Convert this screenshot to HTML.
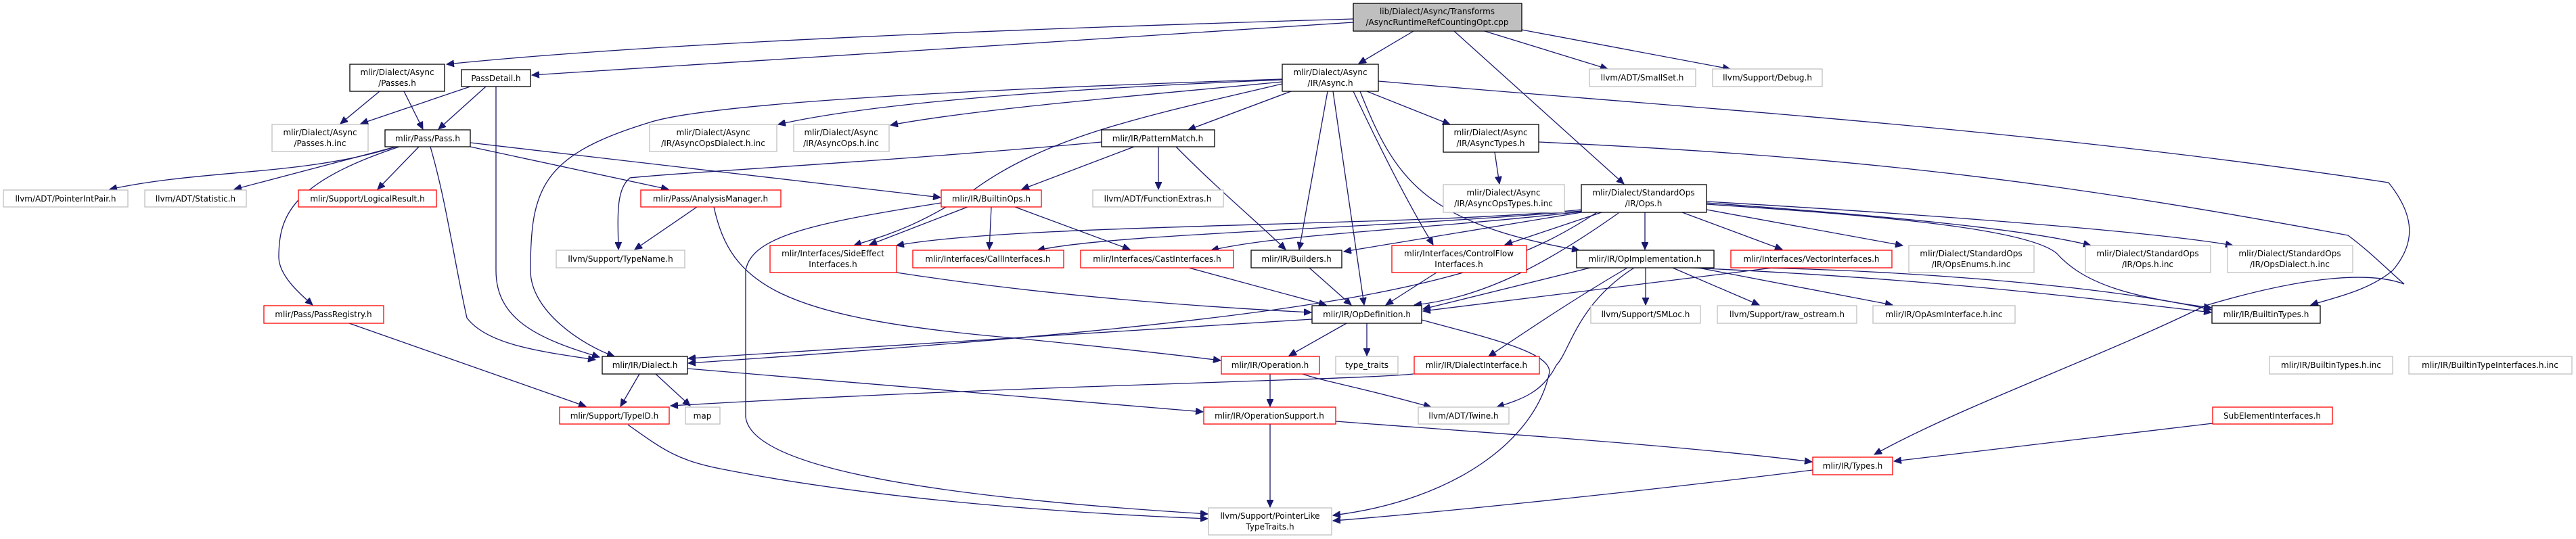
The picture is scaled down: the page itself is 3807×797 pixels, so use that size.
<!DOCTYPE html>
<html><head><meta charset="utf-8"><style>
html,body{margin:0;padding:0;background:#fff;}
svg{display:block;}
text{font-family:"DejaVu Sans","Liberation Sans",sans-serif;font-size:12px;fill:#000;text-anchor:middle;}
.e{fill:none;stroke:#191970;stroke-width:1.3;marker-end:url(#a);}
.b{fill:#fff;stroke:#000;stroke-width:1.3;}
.g{fill:#fff;stroke:#bfbfbf;stroke-width:1.3;}
.r{fill:#fff;stroke:#ff0000;stroke-width:1.3;}
</style></head><body>
<svg width="3807" height="797" viewBox="0 0 3807 797" xmlns="http://www.w3.org/2000/svg">
<defs><marker id="a" markerUnits="userSpaceOnUse" markerWidth="12" markerHeight="10" refX="11" refY="5" orient="auto"><path d="M0,0 L11,5 L0,10 z" fill="#191970" stroke="#191970"/></marker></defs>

<!-- edges -->
<path class="e" d="M2000,28 C1600,40 1000,60 660,95"/>
<path class="e" d="M2000,33 C1600,60 1100,90 786,111"/>
<path class="e" d="M2089,46 L2008,94"/>
<path class="e" d="M2149,46 L2400,272"/>
<path class="e" d="M2194,46 L2376,102"/>
<path class="e" d="M2249,44 L2557,102"/>

<path class="e" d="M1895,118 C1600,130 1300,150 1150,184"/>
<path class="e" d="M1895,121 C1700,140 1450,160 1316,185"/>
<path class="e" d="M1895,117 C1500,130 1050,150 957,182 C800,230 784,280 784,400 C784,460 860,510 908,527"/>
<path class="e" d="M1895,124 C1700,170 1550,200 1440,280 C1350,340 1300,350 1262,363"/>
<path class="e" d="M1908,135 L1756,192"/>
<path class="e" d="M1962,135 L1920,369"/>
<path class="e" d="M1970,135 L2016,451"/>
<path class="e" d="M2000,135 C2040,220 2080,300 2118,362"/>
<path class="e" d="M2010,135 C2060,260 2100,330 2334,370"/>
<path class="e" d="M2020,135 L2143,184"/>
<path class="e" d="M2037,120 C2500,160 3000,190 3530,270 C3570,320 3570,360 3536,400 C3500,430 3450,440 3415,451"/>

<path class="e" d="M2209,225 L2216,272"/>
<path class="e" d="M2274,210 C2700,230 3000,260 3470,348 C3500,370 3530,400 3553,420 C3500,400 3400,410 3259,452 C3100,530 2900,600 2770,672"/>

<path class="e" d="M2337,310 C2100,335 1500,330 1325,363"/>
<path class="e" d="M2337,312 C2000,340 1650,345 1533,370"/>
<path class="e" d="M2337,313 C2100,340 1900,345 1790,370"/>
<path class="e" d="M2337,314 L1986,372"/>
<path class="e" d="M2367,314 L2224,362"/>
<path class="e" d="M2360,314 C2200,420 2000,470 1017,537"/>
<path class="e" d="M2392,315 C2300,380 2200,440 2090,451"/>
<path class="e" d="M2431,314 L2431,369"/>
<path class="e" d="M2486,314 L2634,369"/>
<path class="e" d="M2522,310 L2812,363"/>
<path class="e" d="M2522,300 C2800,320 3000,340 3090,363"/>
<path class="e" d="M2522,298 C2900,320 3200,345 3300,363"/>
<path class="e" d="M2522,302 C2800,320 3000,340 3040,375 C3080,420 3150,440 3268,455"/>

<path class="e" d="M2350,396 L2103,457"/>
<path class="e" d="M2432,396 L2432,451"/>
<path class="e" d="M2472,396 L2600,451"/>
<path class="e" d="M2510,396 L2797,451"/>
<path class="e" d="M2405,396 C2330,440 2270,480 2200,527"/>
<path class="e" d="M2415,396 C2330,450 2320,520 2300,540 C2280,580 2250,590 2212,602"/>
<path class="e" d="M2500,396 C2800,410 3000,430 3268,462"/>
<path class="e" d="M2600,396 C2800,400 3100,420 3268,458"/>
<path class="e" d="M2620,396 L2103,460"/>

<path class="e" d="M3270,626 L2799,682"/>
<path class="e" d="M1974,623 C2200,640 2500,660 2678,683"/>
<path class="e" d="M2679,695 C2400,730 2100,760 1970,770"/>
<path class="e" d="M1877,627 L1877,750"/>
<path class="e" d="M1877,553 L1877,601"/>
<path class="e" d="M1925,553 C1960,565 2000,570 2115,602"/>
<path class="e" d="M1990,478 L1905,526"/>
<path class="e" d="M2020,478 L2020,526"/>
<path class="e" d="M1939,472 L1017,530"/>
<path class="e" d="M2101,473 C2200,500 2290,520 2290,550 C2270,650 2150,740 1970,762"/>
<path class="e" d="M2089,553 C2000,562 1500,570 991,600"/>
<path class="e" d="M945,553 L917,601"/>
<path class="e" d="M969,553 L1020,600"/>
<path class="e" d="M1016,545 L1778,609"/>
<path class="e" d="M928,628 C980,665 1000,680 1064,693 C1300,740 1600,760 1785,767"/>
<path class="e" d="M516,478 L866,601"/>
<path class="e" d="M590,217 C430,270 412,320 412,380 C412,410 450,440 462,451"/>
<path class="e" d="M585,217 C450,260 300,250 162,280"/>
<path class="e" d="M585,217 L346,280"/>
<path class="e" d="M619,217 L558,280"/>
<path class="e" d="M695,217 L988,280"/>
<path class="e" d="M695,211 L1390,292"/>
<path class="e" d="M636,217 C660,300 670,380 690,470 C720,510 800,520 880,532"/>
<path class="e" d="M561,135 L503,183"/>
<path class="e" d="M597,135 L625,191"/>
<path class="e" d="M695,128 L533,183"/>
<path class="e" d="M718,128 L648,191"/>
<path class="e" d="M733,128 L733,400 C733,470 790,500 886,528"/>
<path class="e" d="M1030,306 L938,369"/>
<path class="e" d="M1055,306 C1080,420 1150,470 1500,500 C1600,510 1700,520 1804,533"/>
<path class="e" d="M1628,210 C1300,240 1000,255 931,263 C910,280 913,320 914,369"/>
<path class="e" d="M1676,217 L1510,280"/>
<path class="e" d="M1712,217 L1712,280"/>
<path class="e" d="M1738,217 C1800,280 1860,330 1900,369"/>
<path class="e" d="M1430,306 L1285,362"/>
<path class="e" d="M1465,306 L1462,369"/>
<path class="e" d="M1500,306 L1670,369"/>
<path class="e" d="M1391,300 C1200,330 1110,350 1102,400 L1102,617 C1110,680 1300,730 1785,760"/>
<path class="e" d="M1325,403 C1500,430 1700,450 1938,462"/>
<path class="e" d="M1757,396 L1960,451"/>
<path class="e" d="M1935,396 L1997,451"/>
<path class="e" d="M2123,403 L2048,451"/>

<!-- nodes -->
<rect x="2000" y="5" width="249" height="41" fill="#bfbfbf" stroke="#000" stroke-width="1.3"/>
<text x="2124" y="21">lib/Dialect/Async/Transforms</text><text x="2124" y="37">/AsyncRuntimeRefCountingOpt.cpp</text>

<rect class="b" x="517" y="95" width="140" height="40"/><text x="587" y="111">mlir/Dialect/Async</text><text x="587" y="127">/Passes.h</text>
<rect class="b" x="682" y="103" width="102" height="25"/><text x="733" y="120">PassDetail.h</text>
<rect class="b" x="1895" y="95" width="142" height="40"/><text x="1966" y="111">mlir/Dialect/Async</text><text x="1966" y="127">/IR/Async.h</text>
<rect class="g" x="2349" y="102" width="157" height="26"/><text x="2427" y="119">llvm/ADT/SmallSet.h</text>
<rect class="g" x="2531" y="102" width="162" height="26"/><text x="2612" y="119">llvm/Support/Debug.h</text>

<rect class="g" x="402" y="184" width="142" height="40"/><text x="473" y="200">mlir/Dialect/Async</text><text x="473" y="216">/Passes.h.inc</text>
<rect class="b" x="569" y="192" width="126" height="25"/><text x="632" y="209">mlir/Pass/Pass.h</text>
<rect class="g" x="960" y="184" width="188" height="40"/><text x="1054" y="200">mlir/Dialect/Async</text><text x="1054" y="216">/IR/AsyncOpsDialect.h.inc</text>
<rect class="g" x="1173" y="184" width="141" height="40"/><text x="1243" y="200">mlir/Dialect/Async</text><text x="1243" y="216">/IR/AsyncOps.h.inc</text>
<rect class="b" x="1628" y="192" width="167" height="25"/><text x="1711" y="209">mlir/IR/PatternMatch.h</text>
<rect class="b" x="2133" y="184" width="141" height="41"/><text x="2203" y="200">mlir/Dialect/Async</text><text x="2203" y="216">/IR/AsyncTypes.h</text>

<rect class="g" x="5" y="281" width="184" height="25"/><text x="97" y="298">llvm/ADT/PointerIntPair.h</text>
<rect class="g" x="214" y="281" width="150" height="25"/><text x="289" y="298">llvm/ADT/Statistic.h</text>
<rect class="r" x="441" y="281" width="204" height="25"/><text x="543" y="298">mlir/Support/LogicalResult.h</text>
<rect class="r" x="947" y="281" width="207" height="25"/><text x="1050" y="298">mlir/Pass/AnalysisManager.h</text>
<rect class="r" x="1391" y="281" width="148" height="25"/><text x="1465" y="298">mlir/IR/BuiltinOps.h</text>
<rect class="g" x="1615" y="281" width="193" height="25"/><text x="1711" y="298">llvm/ADT/FunctionExtras.h</text>
<rect class="g" x="2133" y="273" width="179" height="41"/><text x="2222" y="289">mlir/Dialect/Async</text><text x="2222" y="305">/IR/AsyncOpsTypes.h.inc</text>
<rect class="b" x="2337" y="273" width="185" height="41"/><text x="2429" y="289">mlir/Dialect/StandardOps</text><text x="2429" y="305">/IR/Ops.h</text>

<rect class="g" x="822" y="370" width="190" height="26"/><text x="917" y="387">llvm/Support/TypeName.h</text>
<rect class="r" x="1138" y="363" width="187" height="40"/><text x="1231" y="379">mlir/Interfaces/SideEffect</text><text x="1231" y="395">Interfaces.h</text>
<rect class="r" x="1349" y="370" width="223" height="26"/><text x="1460" y="387">mlir/Interfaces/CallInterfaces.h</text>
<rect class="r" x="1597" y="370" width="226" height="26"/><text x="1710" y="387">mlir/Interfaces/CastInterfaces.h</text>
<rect class="b" x="1849" y="370" width="134" height="26"/><text x="1916" y="387">mlir/IR/Builders.h</text>
<rect class="r" x="2057" y="363" width="199" height="40"/><text x="2156" y="379">mlir/Interfaces/ControlFlow</text><text x="2156" y="395">Interfaces.h</text>
<rect class="b" x="2330" y="370" width="203" height="26"/><text x="2431" y="387">mlir/IR/OpImplementation.h</text>
<rect class="r" x="2558" y="370" width="238" height="26"/><text x="2677" y="387">mlir/Interfaces/VectorInterfaces.h</text>
<rect class="g" x="2821" y="363" width="185" height="40"/><text x="2913" y="379">mlir/Dialect/StandardOps</text><text x="2913" y="395">/IR/OpsEnums.h.inc</text>
<rect class="g" x="3082" y="363" width="185" height="40"/><text x="3174" y="379">mlir/Dialect/StandardOps</text><text x="3174" y="395">/IR/Ops.h.inc</text>
<rect class="g" x="3292" y="363" width="185" height="40"/><text x="3384" y="379">mlir/Dialect/StandardOps</text><text x="3384" y="395">/IR/OpsDialect.h.inc</text>

<rect class="r" x="390" y="452" width="177" height="26"/><text x="478" y="469">mlir/Pass/PassRegistry.h</text>
<rect class="b" x="1939" y="452" width="162" height="26"/><text x="2020" y="469">mlir/IR/OpDefinition.h</text>
<rect class="g" x="2351" y="452" width="162" height="26"/><text x="2432" y="469">llvm/Support/SMLoc.h</text>
<rect class="g" x="2538" y="452" width="206" height="26"/><text x="2641" y="469">llvm/Support/raw_ostream.h</text>
<rect class="g" x="2768" y="452" width="210" height="26"/><text x="2873" y="469">mlir/IR/OpAsmInterface.h.inc</text>
<rect class="b" x="3269" y="452" width="160" height="26"/><text x="3349" y="469">mlir/IR/BuiltinTypes.h</text>

<rect class="b" x="890" y="527" width="126" height="26"/><text x="953" y="544">mlir/IR/Dialect.h</text>
<rect class="r" x="1805" y="527" width="145" height="26"/><text x="1877" y="544">mlir/IR/Operation.h</text>
<rect class="g" x="1974" y="527" width="92" height="26"/><text x="2020" y="544">type_traits</text>
<rect class="r" x="2090" y="527" width="185" height="26"/><text x="2182" y="544">mlir/IR/DialectInterface.h</text>
<rect class="g" x="3354" y="527" width="182" height="26"/><text x="3445" y="544">mlir/IR/BuiltinTypes.h.inc</text>
<rect class="g" x="3560" y="527" width="241" height="26"/><text x="3680" y="544">mlir/IR/BuiltinTypeInterfaces.h.inc</text>

<rect class="r" x="827" y="602" width="162" height="25"/><text x="908" y="619">mlir/Support/TypeID.h</text>
<rect class="g" x="1013" y="602" width="51" height="25"/><text x="1038" y="619">map</text>
<rect class="r" x="1779" y="602" width="195" height="25"/><text x="1876" y="619">mlir/IR/OperationSupport.h</text>
<rect class="g" x="2096" y="602" width="134" height="25"/><text x="2163" y="619">llvm/ADT/Twine.h</text>
<rect class="r" x="3270" y="602" width="177" height="25"/><text x="3358" y="619">SubElementInterfaces.h</text>

<rect class="r" x="2679" y="676" width="118" height="26"/><text x="2738" y="693">mlir/IR/Types.h</text>
<rect class="g" x="1786" y="751" width="182" height="40"/><text x="1877" y="767">llvm/Support/PointerLike</text><text x="1877" y="783">TypeTraits.h</text>
</svg>
</body></html>
